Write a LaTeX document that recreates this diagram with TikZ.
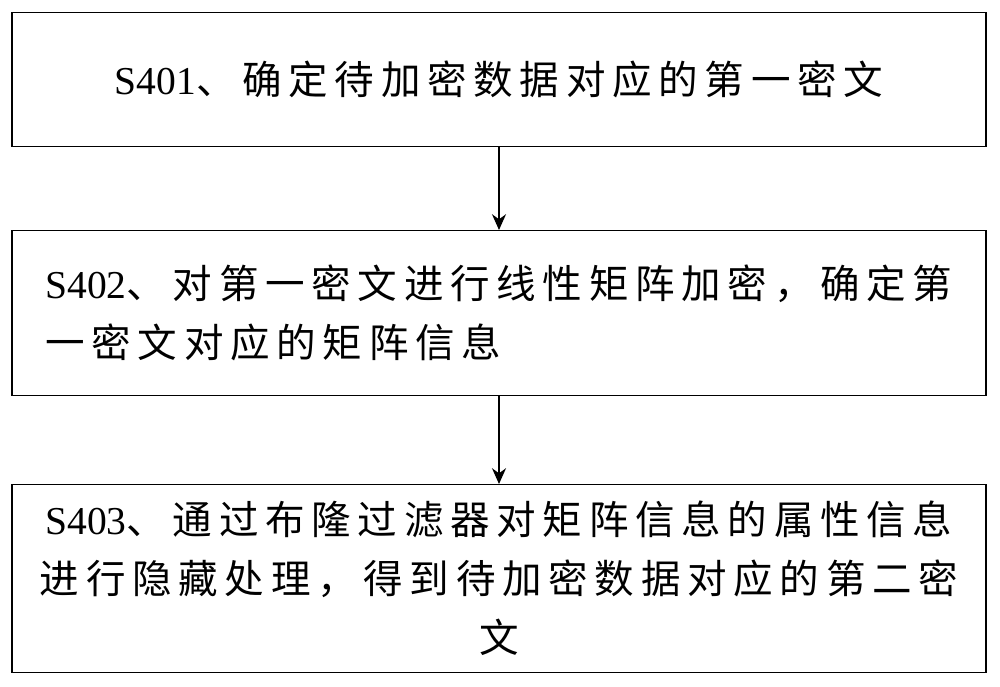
\documentclass[tikz,border=0pt]{standalone}
\usepackage{fontspec}
\setmainfont{Liberation Serif}
\newfontfamily\cjk[LetterSpace=17]{Noto Sans CJK SC}
\usetikzlibrary{arrows.meta}
\tikzset{
 stepbox/.style={draw,line width=0.8pt,minimum width=19.48cm,anchor=north},
 txt/.style={align=center,font=\fontsize{22.5pt}{33.6pt}\selectfont},
 arr/.style={-{Stealth[length=9pt,width=8pt]},line width=0.8pt}
}
\begin{document}
\begin{tikzpicture}[x=0.02cm,y=-0.02cm]
\useasboundingbox (0,0) rectangle (1000,686);
\node[stepbox,minimum height=2.68cm] (b1) at (499,12) {};
\node[stepbox,minimum height=3.30cm] (b2) at (499,230) {};
\node[stepbox,minimum height=3.76cm] (b3) at (499,484) {};
\node[txt] (t1) at (b1.center) {S401\cjk 、确定待加密数据对应的第一密文};
\node[txt,align=left] (t2) at (b2.center) {S402\cjk 、对第一密文进行线性矩阵加密，确定第\\\cjk 一密文对应的矩阵信息};
\node[txt] (t3) at (b3.center) {S403\cjk 、通过布隆过滤器对矩阵信息的属性信息\\\cjk 进行隐藏处理，得到待加密数据对应的第二密\\\cjk 文};
\draw[arr] (b1.south) -- (b2.north);
\draw[arr] (b2.south) -- (b3.north);
\end{tikzpicture}
\end{document}
